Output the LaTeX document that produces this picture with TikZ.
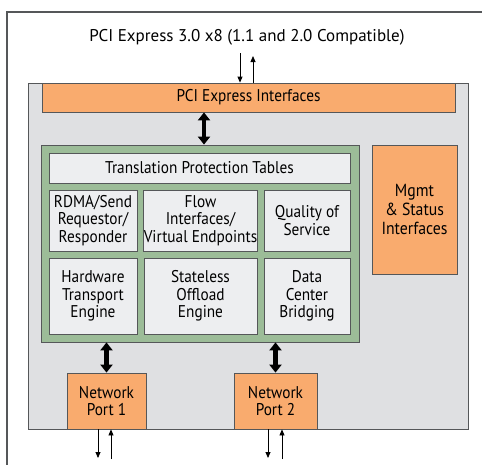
\documentclass[tikz,border=0pt]{standalone}
\usepackage{fontspec}
\setmainfont{PT Sans}
\newfontfamily\condfont{PT Sans}[FakeStretch=0.9]
\usetikzlibrary{arrows.meta,positioning}
\definecolor{edgegray}{HTML}{555759}
\definecolor{chipgray}{HTML}{DFE0E2}
\definecolor{cellgray}{HTML}{EDEEF0}
\definecolor{nicgreen}{HTML}{9CBC98}
\definecolor{nicorange}{HTML}{F9AB6E}

\tikzset{
  orangebox/.style={draw=edgegray, fill=nicorange, line width=0.8pt, inner sep=0pt, align=center, font=\condfont\fontsize{17}{17.5}\selectfont},
  cellbox/.style={draw=edgegray, fill=cellgray, line width=0.8pt, inner sep=0pt, align=center, font=\condfont\fontsize{17}{17.5}\selectfont},
  bigarrow/.style={line width=4.5pt, {Triangle[width=12pt,length=8pt]}-{Triangle[width=12pt,length=8pt]}},
  thinarrow/.style={line width=0.8pt, -{Triangle[width=5pt,length=6pt]}}
}

\begin{document}
\begin{tikzpicture}[x=1pt,y=-1pt]
        \useasboundingbox (0,0) rectangle (482,464);
        \draw[edgegray, line width=1.5pt] (7,470) -- (7,12) -- (490,12);
        \node[font=\fontsize{17}{17.5}\selectfont] (pcilink) at (247,37) {PCI Express 3.0 x8 (1.1 and 2.0 Compatible)};
        \node[draw=edgegray, fill=chipgray, line width=0.8pt, minimum width=440, minimum height=346, inner sep=0pt] (chip) at (248,256) {};
        \node[orangebox, minimum width=413, minimum height=29] (pcie) at (248.5,97.5) {PCI Express Interfaces};
        \node[draw=edgegray, fill=nicgreen, line width=0.8pt, minimum width=318, minimum height=197, inner sep=0pt] (engine) at (200,243.5) {};
        \node[cellbox, minimum width=301, minimum height=30] (tpt) at (199.5,168) {Translation Protection Tables};
        \node[cellbox, minimum width=88, minimum height=61] (rdma) at (93,220.5) {RDMA/Send\\Requestor/\\Responder};
        \node[cellbox, minimum width=113, minimum height=61] (flow) at (200.5,220.5) {Flow\\Interfaces/\\Virtual Endpoints};
        \node[cellbox, minimum width=86, minimum height=61] (qos) at (307,220.5) {Quality of\\Service};
        \node[cellbox, minimum width=88, minimum height=76] (hwte) at (93,296) {Hardware\\Transport\\Engine};
        \node[cellbox, minimum width=113, minimum height=76] (sloe) at (200.5,296) {Stateless\\Offload\\Engine};
        \node[cellbox, minimum width=86, minimum height=76] (dcb) at (307,296) {Data\\Center\\Bridging};
        \node[orangebox, minimum width=85, minimum height=129, font=\condfont\fontsize{17.5}{19}\selectfont] (mgmt) at (414.5,209.5) {Mgmt\\\& Status\\Interfaces};
        \node[orangebox, minimum width=79, minimum height=56] (port1) at (106.5,401) {Network\\Port 1};
        \node[orangebox, minimum width=83, minimum height=56] (port2) at (275.5,401) {Network\\Port 2};
        % host link
        \coordinate (hostin) at (240,53);
        \coordinate (hostout) at (253,56);
        \draw[thinarrow] (hostin) -- (hostin |- pcie.north);
        \draw[thinarrow] (hostout |- pcie.north) -- (hostout);
        % internal buses
        \draw[bigarrow] ([xshift=4pt]pcie.south -| engine.north) -- ([xshift=4pt]engine.north);
        \draw[bigarrow] (port1.north |- engine.south) -- (port1.north);
        \draw[bigarrow] (port2.north |- engine.south) -- (port2.north);
        % network links
        \coordinate (net1in) at (111,459);
        \coordinate (net1out) at (98,458);
        \coordinate (net2in) at (282,459);
        \coordinate (net2out) at (268,458);
        \draw[thinarrow] (net1out |- port1.south) -- (net1out);
        \draw[thinarrow] (net1in) -- (net1in |- port1.south);
        \draw[thinarrow] (net2out |- port2.south) -- (net2out);
        \draw[thinarrow] (net2in) -- (net2in |- port2.south);
        \end{tikzpicture}
\end{document}
